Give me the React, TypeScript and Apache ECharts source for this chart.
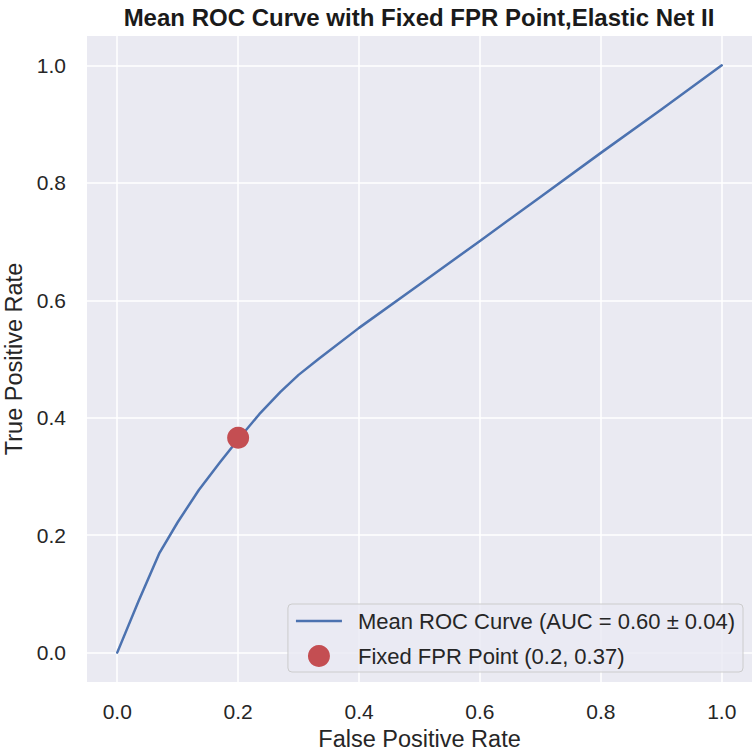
import React, { useEffect, useRef } from "react";
import * as echarts from "echarts";

const fprValues = [0, 0.035, 0.07, 0.1, 0.135, 0.17, 0.2, 0.235, 0.27, 0.3, 0.333, 0.4, 0.5, 0.6, 0.7, 0.8, 0.9, 1.0];
const tprValues = [0, 0.087, 0.17, 0.222, 0.277, 0.324, 0.363, 0.406, 0.444, 0.473, 0.5, 0.553, 0.627, 0.701, 0.776, 0.851, 0.925, 1.0];
const fixedPoint = [0.2, 0.366];
const curveName = "Mean ROC Curve (AUC = 0.60 ± 0.04)";
const pointName = "Fixed FPR Point (0.2, 0.37)";
const titleText = "Mean ROC Curve with Fixed FPR Point,Elastic Net II";

const FONT = "'Liberation Sans', Arial, sans-serif";

export default function App() {
  const ref = useRef<HTMLDivElement>(null);
  useEffect(() => {
    if (!ref.current) return;
    const chart = echarts.init(ref.current, undefined, { renderer: "svg" });
    const axisCommon = {
      type: "value" as const,
      min: -0.05,
      max: 1.05,
      splitNumber: 5,
      axisLine: { show: false },
      axisTick: { show: false },
      splitLine: { show: true, showMinLine: false, showMaxLine: false, lineStyle: { color: "#ffffff", width: 1.5 } },
      axisLabel: {
        showMinLabel: false,
        showMaxLabel: false,
        color: "#262626",
        fontSize: 21,
        fontFamily: FONT,
        formatter: (v: number) => v.toFixed(1),
      },
      nameLocation: "middle" as const,
      nameTextStyle: { color: "#262626", fontSize: 23.5, fontFamily: FONT },
    };
    chart.setOption({
      animation: false,
      backgroundColor: "#ffffff",
      graphic: [
        {
          type: "text",
          x: 419,
          y: 17,
          style: {
            text: titleText,
            textAlign: "center",
            textVerticalAlign: "middle",
            font: `bold 24px ${FONT}`,
            fill: "#1a1a1a",
          },
        },
      ],
      grid: {
        left: 87,
        top: 36,
        right: 0,
        bottom: 69,
        show: true,
        backgroundColor: "#EAEAF2",
        borderWidth: 0,
        outerBoundsMode: "none",
        containLabel: false,
      },
      xAxis: { ...axisCommon, name: "False Positive Rate", nameGap: 44, axisLabel: { ...axisCommon.axisLabel, margin: 19 } },
      yAxis: { ...axisCommon, name: "True Positive Rate", nameGap: 60, axisLabel: { ...axisCommon.axisLabel, margin: 21 } },
      legend: {
        orient: "vertical",
        right: 9,
        bottom: 79,
        itemWidth: 46,
        itemHeight: 22,
        itemGap: 13,
        padding: [6, 8, 5, 8],
        backgroundColor: "rgba(234,234,242,0.8)",
        borderColor: "#cccccc",
        borderWidth: 1,
        borderRadius: 4,
        textStyle: { color: "#262626", fontSize: 22, fontFamily: FONT, padding: [0, 0, 0, 11] },
        data: [
          { name: curveName, icon: "path://M0,0 L46,0 L46,2.5 L0,2.5 Z", itemStyle: { borderWidth: 0 } },
          { name: pointName, icon: "circle", itemStyle: { borderWidth: 0 } },
        ],
      },
      series: [
        {
          name: curveName,
          type: "line",
          data: fprValues.map((x, i) => [x, tprValues[i]]),
          showSymbol: false,
          symbol: "none",
          smooth: false,
          lineStyle: { color: "#4C72B0", width: 2.5, join: "round", cap: "round" },
          itemStyle: { color: "#4C72B0" },
          z: 2,
        },
        {
          name: pointName,
          type: "scatter",
          data: [fixedPoint],
          symbolSize: 22,
          itemStyle: { color: "#C44E52", opacity: 1 },
          z: 3,
        },
      ],
    });
    return () => chart.dispose();
  }, []);
  return <div ref={ref} style={{ width: 752, height: 751, position: "fixed", left: 0, top: 0 }} />;
}
